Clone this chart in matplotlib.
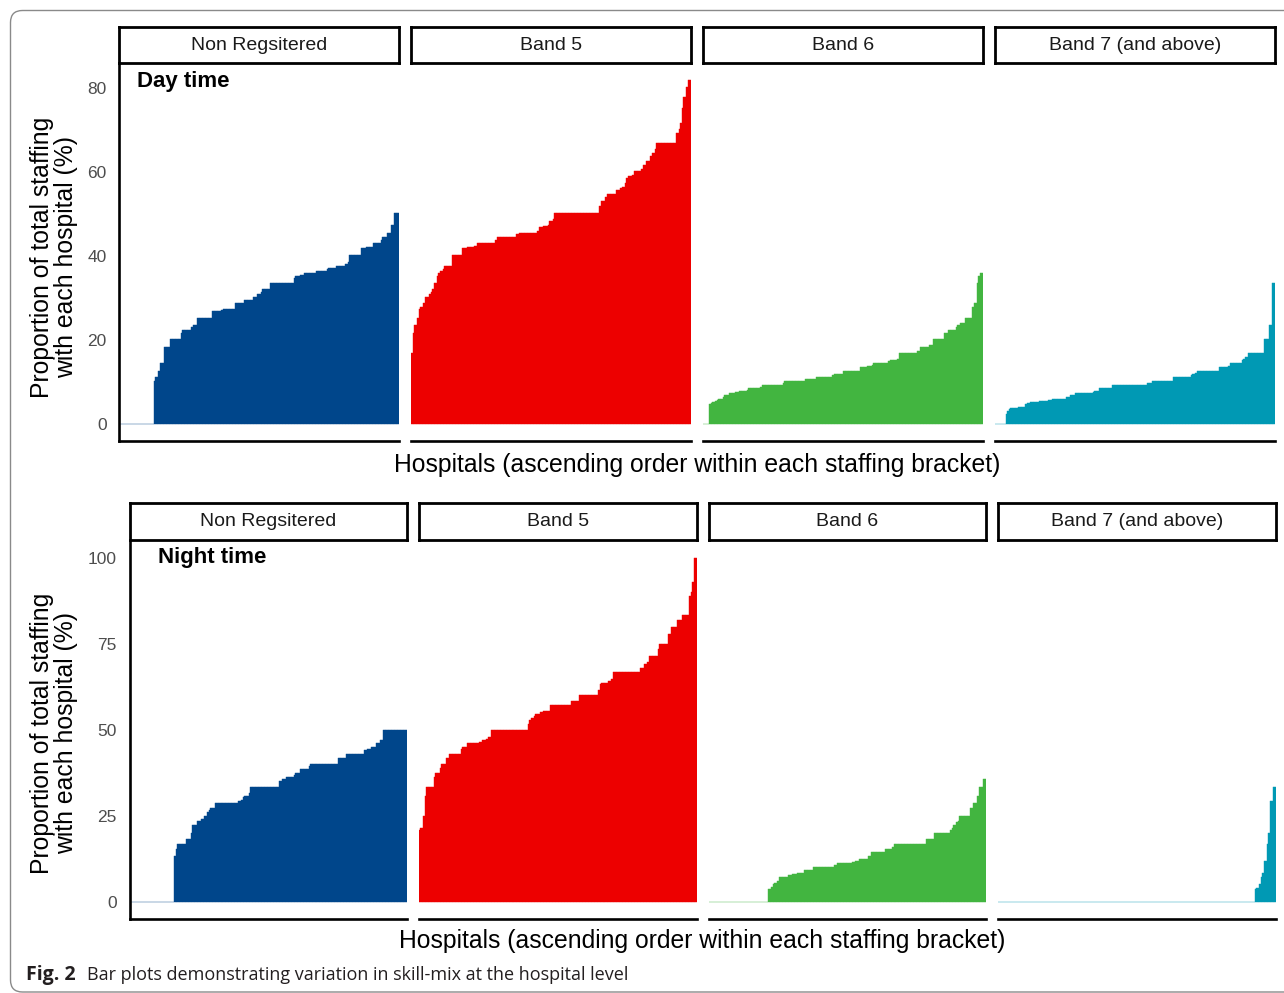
import numpy as np
import matplotlib
matplotlib.use("Agg")
import matplotlib.pyplot as plt
from matplotlib.patches import FancyBboxPatch

plt.rcParams['font.family'] = ['Liberation Sans', 'DejaVu Sans']

W, H = 1284, 993

strip_names = ['Non Regsitered', 'Band 5', 'Band 6', 'Band 7 (and above)']
bar_colors = ['#00468B', '#ED0000', '#42B540', '#0099B4']

# ---- day time: proportion (%) per hospital, sorted, stored as level / run length
day_nonreg_lvl = [0, 10.2, 11.2, 12.6, 14.5, 18.3, 20.2, 21.7, 22.4, 23.1, 23.6, 25.2, 26.9, 27.1, 27.4,
                  28.8, 29.5, 30.2, 31.0, 31.4, 32.1, 33.6, 34.8, 35.2, 35.5, 36.0, 36.4, 36.9, 37.1,
                  37.6, 38.1, 38.6, 40.2, 41.9, 42.1, 43.1, 43.8, 44.5, 45.5, 47.4, 50.2]
day_nonreg_cnt = [23, 1, 2, 1, 3, 4, 7, 1, 6, 1, 3, 10, 6, 1, 8, 6, 6, 3, 2, 1, 5, 16, 1, 3, 3, 8, 7, 1, 5,
                  6, 2, 1, 8, 3, 5, 5, 1, 3, 3, 2, 3]

day_b5_lvl = [16.9, 21.7, 23.6, 25.2, 27.4, 27.9, 28.8, 30.2, 31.0, 31.4, 32.1, 33.6, 35.2, 36.0, 36.4,
              36.9, 37.6, 40.2, 41.9, 42.1, 42.4, 43.1, 43.8, 44.5, 45.2, 45.5, 46.0, 46.9, 47.1, 47.4,
              48.3, 48.8, 50.2, 51.9, 53.1, 54.0, 54.8, 55.7, 56.2, 56.4, 57.4, 58.6, 59.0, 59.3, 60.2,
              60.7, 61.7, 62.6, 63.8, 64.5, 65.5, 66.9, 69.3, 70.2, 71.7, 75.2, 77.9, 80.2, 81.9]
day_b5_cnt = [1, 1, 2, 1, 1, 2, 1, 3, 1, 1, 1, 2, 1, 1, 2, 1, 5, 7, 3, 5, 2, 12, 1, 13, 2, 12, 1, 3, 3, 1,
              2, 1, 30, 1, 3, 1, 6, 3, 1, 2, 1, 1, 3, 1, 5, 1, 2, 3, 1, 2, 1, 13, 2, 1, 1, 1, 2, 1, 2]

day_b6_lvl = [0, 4.8, 5.0, 5.2, 5.5, 5.7, 6.0, 6.4, 6.9, 7.4, 7.6, 7.9, 8.1, 8.6, 8.8, 9.3, 9.8, 10.2,
              10.7, 11.2, 11.7, 11.9, 12.6, 13.6, 13.8, 14.0, 14.5, 15.0, 15.2, 15.5, 16.9, 17.4, 18.3,
              18.8, 20.2, 21.7, 22.4, 23.1, 23.6, 24.0, 25.2, 27.9, 28.8, 33.6, 35.2, 36.0]
day_b6_cnt = [4, 1, 1, 2, 1, 1, 3, 1, 3, 4, 3, 5, 1, 8, 1, 14, 1, 14, 7, 11, 1, 6, 11, 5, 3, 1, 10, 1, 5,
              1, 12, 2, 6, 3, 7, 3, 5, 1, 2, 3, 5, 1, 2, 1, 1, 2]

day_b7_lvl = [0, 2.4, 3.1, 3.6, 3.8, 4.0, 4.8, 5.0, 5.2, 5.5, 5.7, 6.0, 6.4, 6.9, 7.4, 7.6, 7.9, 8.6, 9.3,
              9.8, 10.2, 11.2, 11.7, 11.9, 12.1, 12.6, 13.6, 13.8, 14.5, 15.2, 15.5, 16.0, 16.9, 20.2,
              23.6, 33.6]
day_b7_cnt = [7, 1, 1, 1, 5, 5, 1, 2, 6, 6, 3, 9, 3, 3, 12, 1, 3, 9, 23, 3, 14, 12, 1, 2, 1, 15, 6, 1, 8,
              1, 1, 2, 11, 3, 2, 2]

# ---- night time
night_nonreg_lvl = [0, 13.4, 15.4, 16.9, 18.3, 20.1, 22.4, 23.5, 24.1, 25.0, 26.2, 26.7, 27.3, 28.8,
                    29.4, 29.7, 30.5, 30.8, 31.7, 33.4, 35.2, 35.8, 36.3, 36.9, 37.5, 38.7, 39.5, 40.1,
                    41.9, 43.0, 44.2, 44.5, 45.1, 46.2, 47.1, 50.0]
night_nonreg_cnt = [30, 1, 1, 6, 3, 1, 3, 3, 2, 2, 1, 1, 3, 16, 2, 1, 1, 3, 1, 19, 2, 3, 5, 1, 3, 6, 1,
                    19, 5, 12, 2, 3, 3, 3, 2, 16]

night_b5_lvl = [20.9, 21.5, 25.0, 30.8, 33.4, 36.3, 37.5, 39.0, 40.1, 41.9, 43.0, 44.5, 45.1, 46.2, 46.5,
                47.1, 47.4, 48.0, 50.0, 51.7, 52.9, 53.5, 54.1, 54.7, 55.2, 55.5, 57.3, 58.4, 60.2, 61.6,
                63.4, 63.7, 64.2, 64.8, 66.9, 68.0, 69.2, 69.8, 71.5, 73.5, 75.0, 77.9, 79.9, 82.0, 83.4,
                89.0, 90.1, 93.0, 100.0]
night_b5_cnt = [1, 2, 1, 1, 5, 1, 3, 1, 3, 2, 8, 1, 3, 8, 2, 3, 1, 2, 25, 1, 1, 2, 1, 3, 2, 5, 14, 5, 13,
                1, 1, 5, 2, 1, 18, 3, 2, 1, 6, 1, 6, 2, 4, 3, 5, 1, 1, 1, 2]

night_b6_lvl = [0, 3.8, 4.4, 5.2, 5.5, 6.1, 7.3, 7.9, 8.1, 8.4, 9.3, 10.2, 10.8, 11.3, 11.6, 11.9, 12.5,
                13.4, 14.5, 15.4, 16.0, 16.9, 18.3, 20.1, 20.9, 21.5, 22.4, 23.3, 23.5, 25.0, 27.3, 28.8,
                30.8, 33.4, 35.8]
night_b6_cnt = [40, 2, 1, 1, 2, 1, 6, 3, 3, 5, 6, 14, 2, 10, 2, 3, 6, 2, 9, 5, 1, 22, 5, 11, 1, 1, 2, 1,
                1, 7, 2, 3, 1, 3, 2]

night_b7_lvl = [0, 3.8, 4.1, 5.2, 7.3, 8.4, 11.9, 16.9, 20.1, 29.4, 33.4]
night_b7_cnt = [172, 1, 2, 1, 1, 1, 2, 1, 1, 2, 2]

day_yticks = [0, 20, 40, 60, 80]
night_yticks = [0, 25, 50, 75, 100]

day_data = [(day_nonreg_lvl, day_nonreg_cnt), (day_b5_lvl, day_b5_cnt),
            (day_b6_lvl, day_b6_cnt), (day_b7_lvl, day_b7_cnt)]
night_data = [(night_nonreg_lvl, night_nonreg_cnt), (night_b5_lvl, night_b5_cnt),
              (night_b6_lvl, night_b6_cnt), (night_b7_lvl, night_b7_cnt)]


def box(l, t, w, h):
    # pixel box (from top-left) -> figure fraction
    return [l / W, 1 - (t + h) / H, w / W, h / H]


fig = plt.figure(figsize=(W / 100, H / 100), dpi=100)

# rounded frame round the figure
bg = fig.add_axes([0, 0, 1, 1], zorder=-5)
bg.set_xlim(0, W); bg.set_ylim(H, 0); bg.axis('off')
bg.add_patch(FancyBboxPatch((10.5, 10.5), W + 30, 981.5, boxstyle='round,pad=0,rounding_size=12',
                            fc='none', ec='#8a8a8a', lw=1.0))


def draw_panel(data, yticks, left0, pitch, pw, top, ph, strip_top, strip_h, title, tx, ty):
    allvals = np.concatenate([np.repeat(l, c) for l, c in data])
    ymax = allvals.max()
    for i, (lvl, cnt) in enumerate(data):
        vals = np.repeat(np.array(lvl, float), cnt)
        n = len(vals)
        x = np.arange(1, n + 1)
        left = left0 + pitch * i
        ax = fig.add_axes(box(left, top, pw, ph))
        ax.bar(x, vals, width=1.0, color=bar_colors[i], edgecolor=bar_colors[i], linewidth=0.3)
        ax.set_xlim(0.5, n + 0.5)
        ax.set_ylim(-0.05 * ymax, 1.05 * ymax)
        ax.set_xticks([])
        ax.set_yticks(yticks)
        ax.tick_params(axis='y', length=0, pad=9, labelsize=12.5, labelcolor='#4D4D4D')
        for s in ['top', 'right']:
            ax.spines[s].set_visible(False)
        ax.spines['bottom'].set_linewidth(1.9)
        if i == 0:
            ax.spines['left'].set_linewidth(1.9)
        else:
            ax.spines['left'].set_visible(False)
            ax.set_yticklabels([])
        # facet strip
        sx = fig.add_axes(box(left, strip_top, pw, strip_h))
        sx.set_xticks([]); sx.set_yticks([])
        for s in sx.spines.values():
            s.set_linewidth(2.0)
        sx.text(0.5, 0.5, strip_names[i], ha='center', va='center', fontsize=14,
                color='#1A1A1A', transform=sx.transAxes)
    fig.text(tx / W, 1 - ty / H, title, fontsize=16, fontweight='bold', va='center', ha='left')


draw_panel(day_data, day_yticks, 119, 292, 280, 63, 378, 27, 36, 'Day time', 137, 82)
draw_panel(night_data, night_yticks, 129.5, 289.5, 277.5, 541, 378, 503, 37, 'Night time', 158, 558)

ylab = 'Proportion of total staffing\nwith each hospital (%)'
fig.text(54 / W, 1 - 257 / H, ylab, rotation=90, ha='center', va='center', fontsize=17.8,
         multialignment='center', linespacing=1.0)
fig.text(54 / W, 1 - 733 / H, ylab, rotation=90, ha='center', va='center', fontsize=17.8,
         multialignment='center', linespacing=1.0)

xlab = 'Hospitals (ascending order within each staffing bracket)'
fig.text(697 / W, 1 - 465 / H, xlab, ha='center', va='center', fontsize=17.8)
fig.text(702 / W, 1 - 941 / H, xlab, ha='center', va='center', fontsize=17.8)

# caption
fig.text(26 / W, 1 - 975 / H, 'Fig. 2', ha='left', va='center', fontsize=14,
         fontweight='bold', family=['Open Sans', 'DejaVu Sans'], color='#231F20')
fig.text(87 / W, 1 - 975 / H, 'Bar plots demonstrating variation in skill-mix at the hospital level',
         ha='left', va='center', fontsize=13, family=['Open Sans', 'DejaVu Sans'], color='#231F20')

fig.savefig('out.png', dpi=100)
